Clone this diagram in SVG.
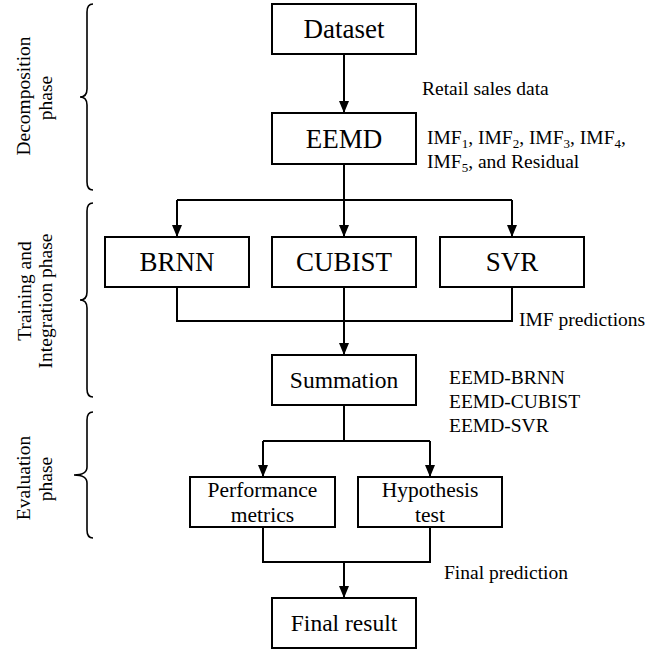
<svg xmlns="http://www.w3.org/2000/svg" width="668" height="652" viewBox="0 0 668 652" font-family="'Liberation Serif', 'Times New Roman', Times, serif">
<style>
  .box { fill: #fff; stroke: #000; stroke-width: 2; }
  text { font-family: 'Liberation Serif', 'Times New Roman', Times, serif; fill: #000; }
  .bt { font-size: 27px; text-anchor: middle; }
  .mt { font-size: 23.5px; text-anchor: middle; }
  .st { font-size: 21.5px; text-anchor: middle; }
  .lb { font-size: 19.5px; }
  .side { font-size: 19.5px; text-anchor: middle; }
  .conn { fill: none; stroke: #000; stroke-width: 2; }
  .brace { fill: none; stroke: #000; stroke-width: 1.6; }
</style>
<defs>
  <marker id="arr" viewBox="0 0 12 10" markerWidth="12" markerHeight="10" refX="12" refY="5" orient="auto" markerUnits="userSpaceOnUse">
    <path d="M0,0 L12,5 L0,10 z" fill="#000"/>
  </marker>
</defs>
<rect width="668" height="652" fill="#fff"/>

<g id="phases">
  <path class="brace" d="M93 4 Q87 4 87 12 L87 89 Q87 97 80 97 Q87 97 87 105 L87 182 Q87 190 93 190"/>
  <text class="side" transform="translate(30,96) rotate(-90)">Decomposition</text>
  <text class="side" transform="translate(52,98) rotate(-90)">phase</text>

  <path class="brace" d="M93 203 Q87 203 87 211 L87 292 Q87 300 80 300 Q87 300 87 308 L87 389 Q87 397 93 397"/>
  <text class="side" transform="translate(31,291) rotate(-90)">Training and</text>
  <text class="side" transform="translate(52,301) rotate(-90)">Integration phase</text>

  <path class="brace" d="M93 412 Q87 412 87 420 L87 467 Q87 475 74 475 Q87 475 87 483 L87 530 Q87 538 93 538"/>
  <text class="side" transform="translate(30,478) rotate(-90)">Evaluation</text>
  <text class="side" transform="translate(52,479) rotate(-90)">phase</text>
</g>

<g id="connectors">
  <line class="conn" x1="344" y1="54" x2="344" y2="113" marker-end="url(#arr)"/>
  <line class="conn" x1="344" y1="164" x2="344" y2="200"/>
  <path class="conn" d="M177 200 L512 200"/>
  <line class="conn" x1="177" y1="200" x2="177" y2="237" marker-end="url(#arr)"/>
  <line class="conn" x1="344" y1="200" x2="344" y2="237" marker-end="url(#arr)"/>
  <line class="conn" x1="512" y1="200" x2="512" y2="237" marker-end="url(#arr)"/>
  <path class="conn" d="M177 287 L177 321 L512 321 L512 287"/>
  <line class="conn" x1="344" y1="287" x2="344" y2="355" marker-end="url(#arr)"/>
  <line class="conn" x1="344" y1="405" x2="344" y2="441"/>
  <path class="conn" d="M263 441 L430 441"/>
  <line class="conn" x1="263" y1="441" x2="263" y2="477" marker-end="url(#arr)"/>
  <line class="conn" x1="430" y1="441" x2="430" y2="477" marker-end="url(#arr)"/>
  <path class="conn" d="M263 527 L263 562 L430 562 L430 527"/>
  <line class="conn" x1="344" y1="562" x2="344" y2="598" marker-end="url(#arr)"/>
</g>

<g id="dataset">
  <rect class="box" x="272" y="4" width="144" height="50"/>
  <text class="bt" x="344" y="38">Dataset</text>
</g>
<g id="eemd">
  <rect class="box" x="272" y="113" width="144" height="51"/>
  <text class="bt" x="344" y="148">EEMD</text>
</g>
<g id="brnn">
  <rect class="box" x="105" y="237" width="144" height="50"/>
  <text class="bt" x="177" y="271">BRNN</text>
</g>
<g id="cubist">
  <rect class="box" x="272" y="237" width="144" height="50"/>
  <text class="bt" x="344" y="271">CUBIST</text>
</g>
<g id="svr">
  <rect class="box" x="440" y="237" width="144" height="50"/>
  <text class="bt" x="512" y="271">SVR</text>
</g>
<g id="summation">
  <rect class="box" x="272" y="355" width="144" height="50"/>
  <text class="mt" x="344" y="388">Summation</text>
</g>
<g id="performance">
  <rect class="box" x="190" y="477" width="145" height="50"/>
  <text class="st" x="262.5" y="497">Performance</text>
  <text class="st" x="262.5" y="522">metrics</text>
</g>
<g id="hypothesis">
  <rect class="box" x="358" y="477" width="144" height="50"/>
  <text class="st" x="430" y="497">Hypothesis</text>
  <text class="st" x="430" y="522">test</text>
</g>
<g id="final">
  <rect class="box" x="272" y="598" width="144" height="50"/>
  <text class="mt" x="344" y="631">Final result</text>
</g>

<g id="labels">
  <text class="lb" x="422" y="95">Retail sales data</text>
  <text class="lb" x="427" y="144">IMF<tspan font-size="13" dy="4">1</tspan><tspan dy="-4">, IMF</tspan><tspan font-size="13" dy="4">2</tspan><tspan dy="-4">, IMF</tspan><tspan font-size="13" dy="4">3</tspan><tspan dy="-4">, IMF</tspan><tspan font-size="13" dy="4">4</tspan><tspan dy="-4">,</tspan></text>
  <text class="lb" x="427" y="168">IMF<tspan font-size="13" dy="4">5</tspan><tspan dy="-4">, and Residual</tspan></text>
  <text class="lb" x="519" y="326">IMF predictions</text>
  <text class="lb" x="449" y="384">EEMD-BRNN</text>
  <text class="lb" x="449" y="408">EEMD-CUBIST</text>
  <text class="lb" x="449" y="432">EEMD-SVR</text>
  <text class="lb" x="444" y="579">Final prediction</text>
</g>
</svg>
